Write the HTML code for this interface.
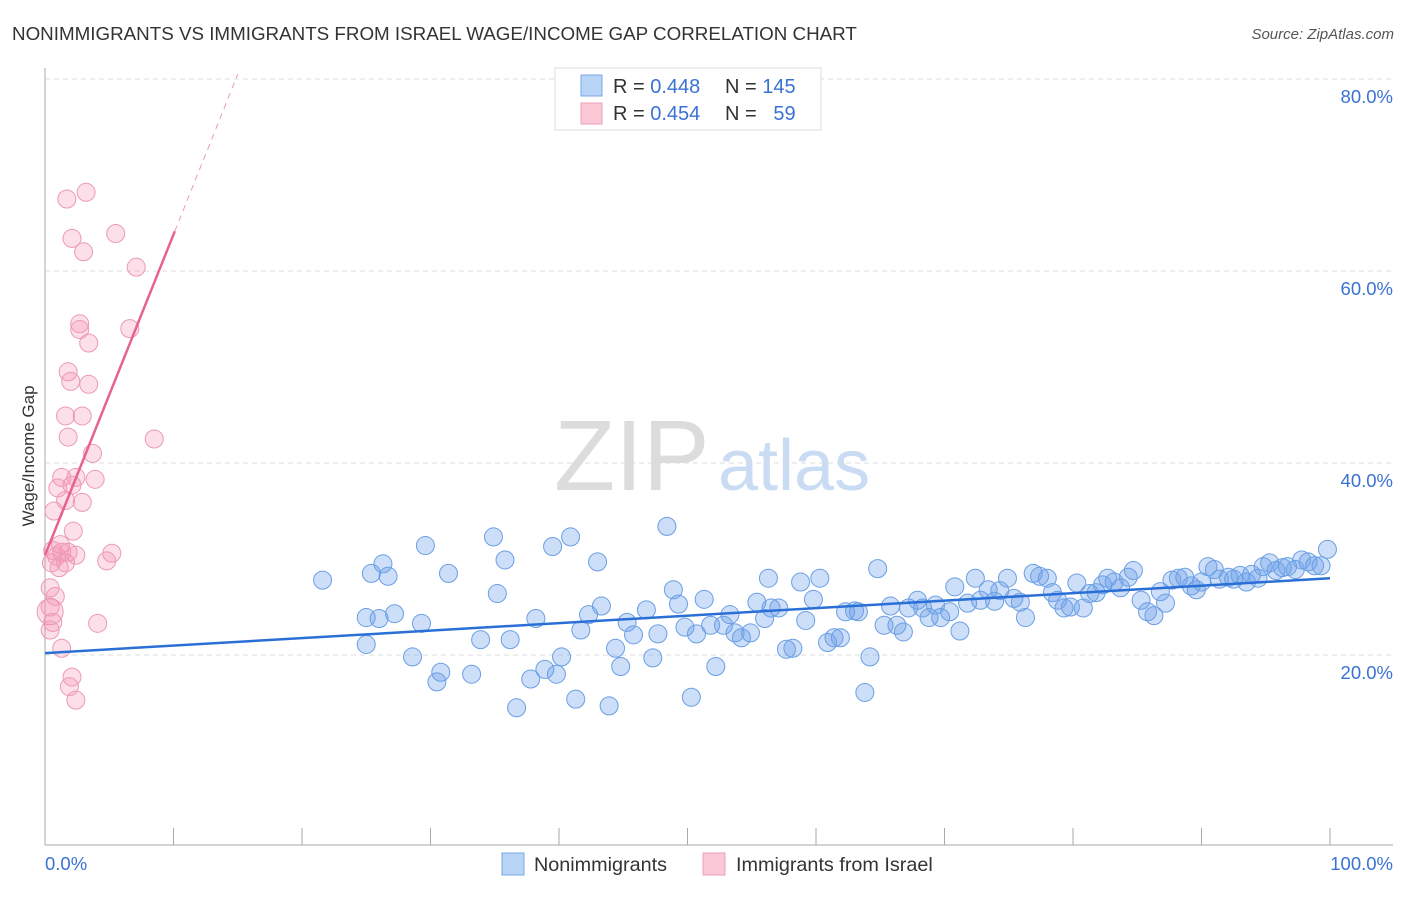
<!DOCTYPE html>
<html><head><meta charset="utf-8"><style>
body{margin:0;background:#fff;font-family:"Liberation Sans",sans-serif;}
svg text{font-family:"Liberation Sans",sans-serif;}
</style></head><body>
<svg id="chart" width="1406" height="892" xmlns="http://www.w3.org/2000/svg">
<text x="12" y="40" font-size="18.8" fill="#333">NONIMMIGRANTS VS IMMIGRANTS FROM ISRAEL WAGE/INCOME GAP CORRELATION CHART</text>
<text x="1394" y="39" font-size="15" fill="#555" text-anchor="end" font-style="italic">Source: ZipAtlas.com</text>
<g>
<text x="554" y="490" font-size="100" fill="#dcdcdc" font-family="Liberation Serif, serif">ZIP</text>
<text x="718" y="490" font-size="72" fill="#c9dcf3">atlas</text>
</g>
<g id="grid"></g>
<g id="axes"></g>
<g id="pts"></g>
<g id="trends"></g>
<g>
<rect x="555" y="68" width="266" height="62" fill="#fff" stroke="#ddd"/>
<rect x="581" y="75" width="21" height="21" fill="#b8d4f6" stroke="#7aa8e6"/>
<rect x="581" y="103" width="21" height="21" fill="#fbc8d6" stroke="#eea0b8"/>
<text x="613" y="93" font-size="20" fill="#333">R = <tspan fill="#3a72d4">0.448</tspan></text>
<text x="725" y="93" font-size="20" fill="#333">N = <tspan fill="#3a72d4">145</tspan></text>
<text x="613" y="120" font-size="20" fill="#333">R = <tspan fill="#3a72d4">0.454</tspan></text>
<text x="725" y="120" font-size="20" fill="#333">N = <tspan fill="#3a72d4">&#160;&#160;59</tspan></text>
</g>
<g>
<rect x="502" y="853" width="22" height="22" fill="#b8d4f6" stroke="#7aa8e6"/>
<text x="534" y="871" font-size="19.8" fill="#333">Nonimmigrants</text>
<rect x="703" y="853" width="22" height="22" fill="#fbc8d6" stroke="#eea0b8"/>
<text x="736" y="871" font-size="19.8" fill="#333">Immigrants from Israel</text>
</g>
<text transform="translate(34,456) rotate(-90)" font-size="17" fill="#333" text-anchor="middle">Wage/Income Gap</text>
</svg>
<script>
const yTicks=[20,40,60,80];
const yTickLabels=["20.0%","40.0%","60.0%","80.0%"];
const xEndLabels=["0.0%","100.0%"];
const blueX=[21.6,25.0,25.0,25.4,26.0,26.3,26.7,27.2,29.3,29.6,28.6,30.5,30.8,31.4,33.2,33.9,34.9,35.2,35.8,36.2,36.7,37.8,38.2,38.9,39.5,39.8,40.2,40.9,41.3,41.7,42.3,43.0,43.3,43.9,44.4,44.8,45.3,45.8,46.8,47.3,47.7,48.4,48.9,49.3,49.8,50.3,50.7,51.3,51.8,52.2,52.8,53.3,53.7,54.2,54.9,55.4,56.0,56.3,56.5,57.1,57.7,58.2,58.8,59.2,59.8,60.3,60.9,61.4,61.9,62.3,63.0,63.3,63.8,64.2,64.8,65.3,65.8,66.3,66.8,67.2,67.9,68.3,68.8,69.3,69.7,70.4,70.8,71.2,71.8,72.4,72.8,73.4,73.9,74.3,74.9,75.4,75.9,76.3,76.9,77.4,78.0,78.4,78.8,79.3,79.8,80.3,80.8,81.3,81.8,82.3,82.7,83.2,83.7,84.3,84.7,85.3,85.8,86.3,86.8,87.2,87.7,88.2,88.7,89.2,89.6,90.0,90.5,91.0,91.4,92.1,92.5,93.0,93.5,93.9,94.4,94.8,95.3,95.8,96.3,96.7,97.3,97.8,98.3,98.8,99.3,99.8];
const blueY=[27.8,23.9,21.1,28.5,23.8,29.5,28.2,24.3,23.3,31.4,19.8,17.2,18.2,28.5,18.0,21.6,32.3,26.4,29.9,21.6,14.5,17.5,23.8,18.5,31.3,18.0,19.8,32.3,15.4,22.6,24.2,29.7,25.1,14.7,20.7,18.8,23.4,22.1,24.7,19.7,22.2,33.4,26.8,25.3,22.9,15.6,22.2,25.8,23.1,18.8,23.1,24.2,22.3,21.8,22.3,25.5,23.8,28.0,24.9,24.9,20.6,20.7,27.6,23.6,25.8,28.0,21.3,21.8,21.8,24.5,24.6,24.5,16.1,19.8,29.0,23.1,25.1,23.1,22.4,24.9,25.7,24.9,23.9,25.2,23.9,24.5,27.1,22.5,25.4,28.0,25.7,26.8,25.6,26.7,28.0,25.9,25.5,23.9,28.5,28.2,28.0,26.5,25.7,24.9,25.0,27.5,24.9,26.4,26.5,27.3,28.0,27.6,27.0,28.1,28.8,25.7,24.5,24.1,26.6,25.4,27.8,28.0,28.1,27.2,26.8,27.6,29.2,28.9,27.9,28.1,27.9,28.3,27.6,28.4,28.0,29.2,29.6,28.8,29.1,29.2,28.9,29.9,29.7,29.3,29.3,31.0];
const pinkX=[1.7,3.2,2.1,3.0,5.5,7.1,2.7,2.7,3.4,6.6,1.8,2.0,3.4,1.6,2.9,1.8,8.5,3.7,1.3,2.4,3.9,1.0,2.1,1.6,2.9,0.7,2.2,1.2,0.6,1.3,0.9,1.8,0.5,1.1,1.6,2.4,5.2,4.8,0.8,0.4,0.4,0.6,0.4,4.1,1.3,2.1,1.9,2.4,0.4];
const pinkY=[67.5,68.2,63.4,62.0,63.9,60.4,54.5,53.9,52.5,54.0,49.5,48.5,48.2,44.9,44.9,42.7,42.5,41.0,38.5,38.5,38.3,37.4,37.7,36.1,35.9,35.0,32.9,31.5,30.9,30.7,30.3,30.7,29.6,29.1,29.6,30.4,30.6,29.8,26.1,27.0,25.0,23.4,22.6,23.3,20.7,17.7,16.7,15.3,24.5];
const blueTrend=[20.2,0.078];
const pinkTrend=[30.4,3.34];
const NS="http://www.w3.org/2000/svg";
const X=v=>45+v*12.85, Y=v=>847-v*9.6;
function mk(t,a,p){const e=document.createElementNS(NS,t);for(const k in a)e.setAttribute(k,a[k]);p.appendChild(e);return e;}
const grid=document.getElementById('grid'),axes=document.getElementById('axes');
yTicks.forEach((t,i)=>{
 const l=mk('line',{x1:45,x2:1393,y1:Y(t),y2:Y(t),stroke:'#ddd','stroke-dasharray':'5,4'},grid);
 
 
 const tx=mk('text',{x:1393,y:Y(t)+24,'font-size':18.5,fill:'#3a72d4','text-anchor':'end'},axes);
 tx.textContent=yTickLabels[i];
 
 
});
mk('line',{x1:45,x2:45,y1:68,y2:845,stroke:'#aaa'},axes);
mk('line',{x1:45,x2:1393,y1:845,y2:845,stroke:'#aaa'},axes);
for(let i=0;i<=10;i++){const t=mk('line',{x1:X(i*10),x2:X(i*10),y1:828,y2:845,stroke:'#aaa'},axes);
 
 }
const a0=mk('text',{x:45,y:870,'font-size':18.5,fill:'#3a72d4'},axes);a0.textContent=xEndLabels[0];


const a1=mk('text',{x:1393,y:870,'font-size':18.5,fill:'#3a72d4','text-anchor':'end'},axes);a1.textContent=xEndLabels[1];


const pts=document.getElementById('pts');
blueX.forEach((x,i)=>{const c=mk('circle',{cx:X(x),cy:Y(blueY[i]),r:9,fill:'rgba(110,160,235,0.35)',stroke:'#6a9fe4','stroke-width':1},pts);
 
 });
pinkX.forEach((x,i)=>{const c=mk('circle',{cx:X(x),cy:Y(pinkY[i]),r:i==pinkX.length-1?13:9,fill:'rgba(245,150,180,0.3)',stroke:'#eb9ab5','stroke-width':1},pts);
 
 });
const tr=document.getElementById('trends');
const bl=mk('line',{x1:X(0),y1:Y(blueTrend[0]),x2:X(100),y2:Y(blueTrend[0]+blueTrend[1]*100),stroke:'#2a6fd6','stroke-width':2.5},tr);


const pl=mk('line',{x1:X(0),y1:Y(pinkTrend[0]),x2:X(10.1),y2:Y(pinkTrend[0]+pinkTrend[1]*10.1),stroke:'#e8628e','stroke-width':2.5},tr);


const xe=(80.5-pinkTrend[0])/pinkTrend[1];
const pd=mk('line',{x1:X(10.1),y1:Y(pinkTrend[0]+pinkTrend[1]*10.1),x2:X(xe),y2:Y(80.5),stroke:'#eb9ab5','stroke-width':1,'stroke-dasharray':'6,5'},tr);


</script>
</body></html>
